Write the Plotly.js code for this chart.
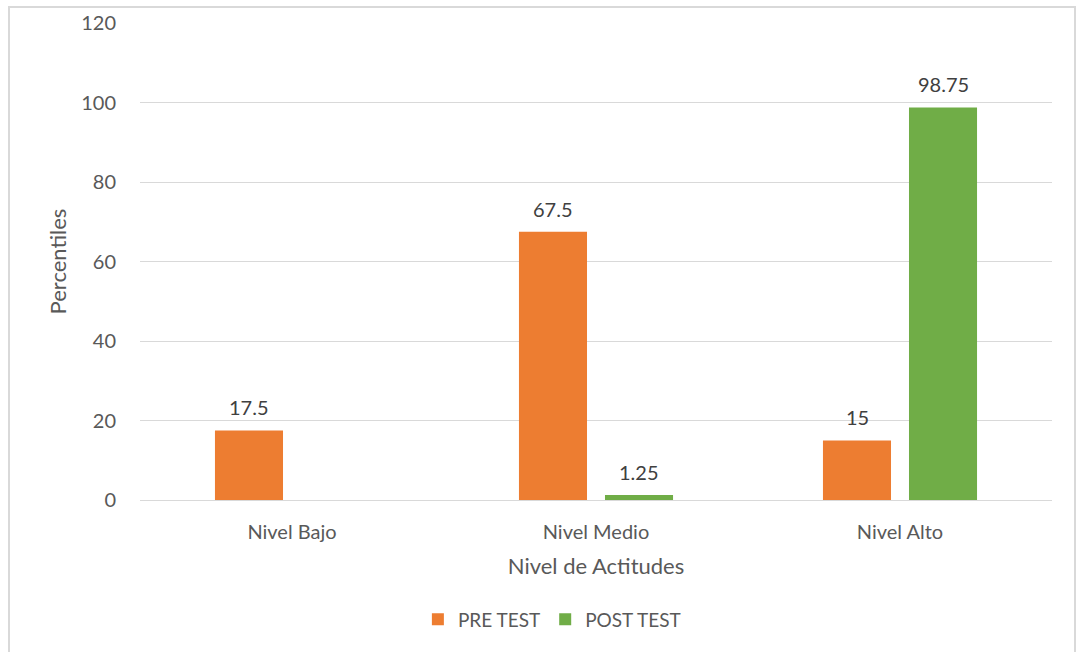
<!DOCTYPE html>
<html>
<head>
<meta charset="utf-8">
<script src="https://cdn.plot.ly/plotly-3.0.1.min.js"></script>
<style>
html,body{margin:0;padding:0;background:#fff;overflow:hidden;}
#frame{position:absolute;left:8px;top:6px;width:1068px;height:680px;border:2px solid #d9d9d9;box-sizing:border-box;pointer-events:none;z-index:5;}
#chart{position:absolute;left:0;top:0;width:1080px;height:652px;}
</style>
</head>
<body>
<div id="chart"></div>
<div id="frame"></div>
<script>
const categories = ["Nivel Bajo", "Nivel Medio", "Nivel Alto"];
const preTest = [17.5, 67.5, 15];
const postTest = [null, 1.25, 98.75];
const seriesNames = ["PRE TEST", "POST TEST"];
const yTicks = [0, 20, 40, 60, 80, 100, 120];

const FONT = "Lato, 'Liberation Sans', sans-serif";
const colors = ["#ED7D31", "#70AD47"];
const seriesValues = [preTest, postTest];

const traces = seriesValues.map((vals, i) => ({
  type: "bar",
  name: seriesNames[i],
  x: categories,
  y: vals,
  marker: {color: colors[i]},
  hoverinfo: "x+y+name"
}));

const annotations = [];
seriesValues.forEach((vals, i) => {
  vals.forEach((v, j) => {
    if (v === null) return;
    annotations.push({
      x: categories[j], y: v, xref: "x", yref: "y",
      text: String(v), showarrow: false,
      xshift: i === 0 ? -43 : 43, yshift: 23,
      yanchor: "middle",
      font: {family: FONT, size: 20, color: "#404040"}
    });
  });
});

const layout = {
  width: 1080, height: 652,
  margin: {l: 140, r: 28, t: 23, b: 152},
  paper_bgcolor: "#ffffff",
  plot_bgcolor: "#ffffff",
  barmode: "group",
  bargap: 0.434,
  bargroupgap: 0.209,
  font: {family: FONT, color: "#595959", size: 20},
  xaxis: {
    type: "category",
    showgrid: false,
    showline: false,
    zeroline: false,
    ticks: "outside", ticklen: 14, tickcolor: "rgba(0,0,0,0)",
    tickfont: {family: FONT, size: 20, color: "#595959"},
    title: {text: "Nivel de Actitudes", font: {family: FONT, size: 22, color: "#595959"}, standoff: 16}
  },
  yaxis: {
    range: [0, 120],
    tickvals: yTicks,
    showgrid: true, gridcolor: "#d9d9d9", gridwidth: 1.3,
    zeroline: true, zerolinecolor: "#d9d9d9", zerolinewidth: 1.3,
    showline: false,
    ticks: "outside", ticklen: 19, tickcolor: "rgba(0,0,0,0)",
    tickfont: {family: FONT, size: 20, color: "#595959"},
    title: {text: "Percentiles", font: {family: FONT, size: 22, color: "#595959"}, standoff: 8}
  },
  legend: {
    orientation: "h",
    xref: "container", yref: "container",
    x: 0.511, xanchor: "center",
    y: 0.05, yanchor: "middle",
    font: {family: FONT, size: 19, color: "#595959"},
    itemwidth: 30
  },
  annotations: annotations,
  showlegend: true
};

Plotly.newPlot("chart", traces, layout, {displayModeBar: false, staticPlot: false});
</script>
</body>
</html>
